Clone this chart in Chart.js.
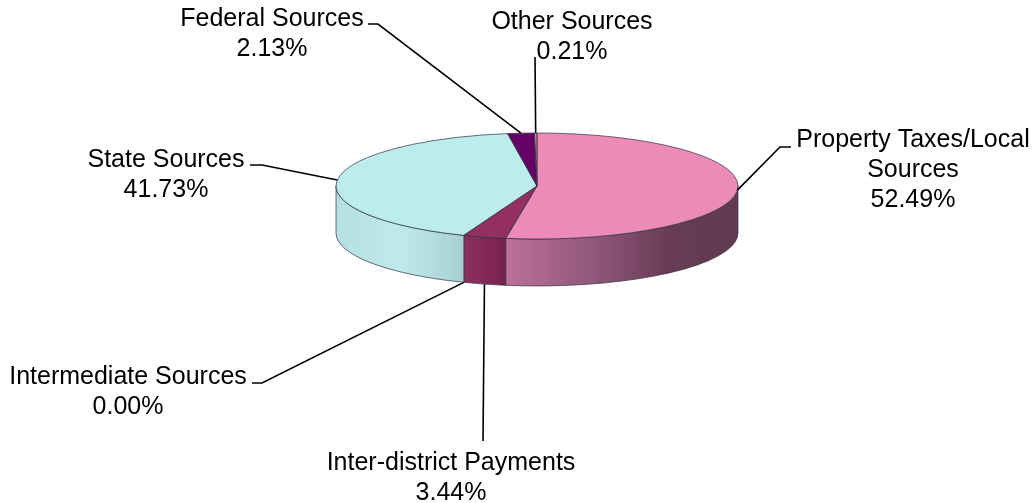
<!DOCTYPE html>
<html>
<head>
<meta charset="utf-8">
<style>
html,body{margin:0;padding:0;background:#fff}
#wrap{width:1034px;height:503px;position:relative}
</style>
<script src="https://cdn.jsdelivr.net/npm/chart.js@4"></script>
</head>
<body>
<div id="wrap"><canvas id="pieChart"></canvas></div>
<script>
const categories=["Property Taxes/Local Sources","Inter-district Payments","Intermediate Sources","State Sources","Federal Sources","Other Sources"]
const shares=[52.49,3.44,0.00,41.73,2.13,0.21]

const topColors=["#ec8ab8","#93305f","#93305f","#bcecec","#660066","#e08aa8"]
// wall shading, left to right along each slice
const wallStops=[
[[0,"#bb7098"],[0.35,"#95597f"],[0.7,"#683c55"],[1,"#613a50"]],
[[0,"#8c2f5f"],[1,"#78214f"]],
[[0,"#8c2f5f"],[1,"#78214f"]],
[[0,"#b4e0e2"],[0.5,"#bfeaea"],[1,"#a8d0d2"]],
[[0,"#660066"],[1,"#660066"]],
[[0,"#e08aa8"],[1,"#e08aa8"]]
]

// label text lines, centre of the first line and the elbow of each leader
const labelLines=[
["Property Taxes/Local","Sources","52.49%"],
["Inter-district Payments","3.44%"],
["Intermediate Sources","0.00%"],
["State Sources","41.73%"],
["Federal Sources","2.13%"],
["Other Sources","0.21%"]
]
const labelPlace=[
{x:913,y:140,elbow:[[780,147],[791,147]]},
{x:451,y:463,elbow:[[483,441]]},
{x:128,y:377,elbow:[[262,383],[252,383]]},
{x:166,y:160,elbow:[[262,165],[250,165]]},
{x:272,y:19,elbow:[[378,24],[368,24]]},
{x:572,y:22,elbow:[[535,57]]}
]

const RX=201,RY=53,DEPTH=47
const FONT_SIZE=25
const LINE_GAP=30

function ellipseOf(chart){
let arc=chart.getDatasetMeta(0).data[0]
return {x:arc.x,y:arc.y,r:arc.outerRadius}
}

const tiltedPie={
id:"tiltedPie",
beforeDatasetsDraw(chart){
let c=chart.ctx
let e=ellipseOf(chart)
let arcs=chart.getDatasetMeta(0).data

// walls first, only the part of each slice that faces front
arcs.forEach((arc,i)=>{
let a0=Math.max(arc.startAngle,0)
let a1=Math.min(arc.endAngle,Math.PI)
if(a1<=a0) return
let x0=e.x+RX*Math.cos(a0)
let x1=e.x+RX*Math.cos(a1)
let g=c.createLinearGradient(x1,0,x0,0)
wallStops[i].forEach(s=>g.addColorStop(s[0],s[1]))
c.beginPath()
c.ellipse(e.x,e.y,RX,RY,0,a0,a1)
c.ellipse(e.x,e.y+DEPTH,RX,RY,0,a1,a0,true)
c.closePath()
c.fillStyle=g
c.fill()
c.strokeStyle="rgba(50,50,70,.7)"
c.lineWidth=1
c.stroke()
})

// flatten the circle the library draws into the top face
c.save()
c.translate(e.x,e.y)
c.scale(RX/e.r,RY/e.r)
c.translate(-e.x,-e.y)
},
afterDatasetsDraw(chart){
let c=chart.ctx
c.restore()
let e=ellipseOf(chart)
let arcs=chart.getDatasetMeta(0).data

c.strokeStyle="rgba(50,50,70,.7)"
c.lineWidth=1
arcs.forEach(arc=>{
if(arc.endAngle-arc.startAngle<=0) return
c.beginPath()
c.moveTo(e.x,e.y)
c.ellipse(e.x,e.y,RX,RY,0,arc.startAngle,arc.endAngle)
c.closePath()
c.stroke()
})

drawLabels(chart)
}
}

function drawLabels(chart){
let c=chart.ctx
let e=ellipseOf(chart)
let arcs=chart.getDatasetMeta(0).data

arcs.forEach((arc,i)=>{
let mid=(arc.startAngle+arc.endAngle)/2
let ax=e.x+RX*Math.cos(mid)
let ay=e.y+RY*Math.sin(mid)
if(Math.sin(mid)>0.5) ay+=DEPTH

c.strokeStyle="#000"
c.lineWidth=1.6
c.beginPath()
c.moveTo(ax,ay)
labelPlace[i].elbow.forEach(p=>c.lineTo(p[0],p[1]))
c.stroke()

c.fillStyle="#000"
c.font=FONT_SIZE+'px "Liberation Sans"'
c.textAlign="center"
c.textBaseline="middle"
labelLines[i].forEach((t,n)=>{
c.fillText(t,labelPlace[i].x,labelPlace[i].y+n*LINE_GAP)
})
})
}

new Chart(document.getElementById("pieChart"),{
type:"pie",
data:{
labels:categories,
datasets:[{
data:shares,
backgroundColor:topColors,
borderWidth:0
}]
},
options:{
responsive:true,
maintainAspectRatio:false,
animation:false,
layout:{padding:{left:40,bottom:131}},
plugins:{legend:{display:false},tooltip:{enabled:false}}
},
plugins:[tiltedPie]
})
</script>
</body>
</html>
